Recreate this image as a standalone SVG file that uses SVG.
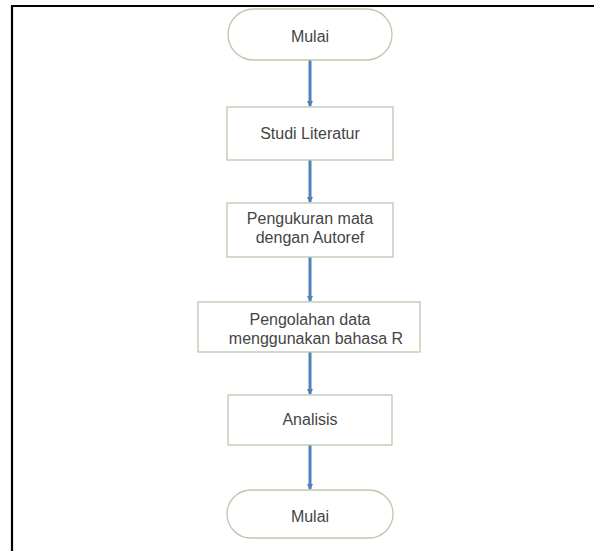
<svg xmlns="http://www.w3.org/2000/svg" width="594" height="551" viewBox="0 0 594 551">
<defs>
<style>
.node{fill:#ffffff;stroke:#bcc7ad;stroke-width:1.3}
.lbl{font-family:"Liberation Sans",Arial,sans-serif;font-size:16px;fill:#454545;text-anchor:middle}
.conn{stroke:#4f81bd;stroke-width:3;fill:none}
</style>
<marker id="ah" viewBox="0 0 6 6" refX="5" refY="3" markerWidth="2" markerHeight="2" orient="auto" markerUnits="strokeWidth">
<path d="M0,0 L6,3 L0,6 z" fill="#4f81bd"/>
</marker>
</defs>
<rect width="594" height="551" fill="#ffffff"/>
<path d="M12,551 V6 H594" fill="none" stroke="#000000" stroke-width="2.2"/>
<g id="connectors">
<line class="conn" x1="310" y1="60" x2="310" y2="106" marker-end="url(#ah)"/>
<line class="conn" x1="310" y1="160" x2="310" y2="202" marker-end="url(#ah)"/>
<line class="conn" x1="310" y1="257" x2="310" y2="301" marker-end="url(#ah)"/>
<line class="conn" x1="310" y1="352" x2="310" y2="394" marker-end="url(#ah)"/>
<line class="conn" x1="310" y1="445" x2="310" y2="489" marker-end="url(#ah)"/>
</g>
<g id="start">
<rect class="node" x="228" y="9" width="164" height="51" rx="25.5"/>
<text class="lbl" x="310" y="42">Mulai</text>
</g>
<g id="studi">
<rect class="node" x="227" y="107" width="166" height="53"/>
<text class="lbl" x="310" y="139">Studi Literatur</text>
</g>
<g id="pengukuran">
<rect class="node" x="227" y="203" width="166" height="54"/>
<text class="lbl" x="310" y="224">Pengukuran mata</text>
<text class="lbl" x="310" y="243">dengan Autoref</text>
</g>
<g id="pengolahan">
<rect class="node" x="198" y="302" width="222" height="50"/>
<text class="lbl" x="310" y="325">Pengolahan data</text>
<text class="lbl" x="316" y="344">menggunakan bahasa R</text>
</g>
<g id="analisis">
<rect class="node" x="228" y="395" width="164" height="50"/>
<text class="lbl" x="310" y="425">Analisis</text>
</g>
<g id="end">
<rect class="node" x="227" y="490" width="166" height="48" rx="24"/>
<text class="lbl" x="310" y="522">Mulai</text>
</g>
</svg>
